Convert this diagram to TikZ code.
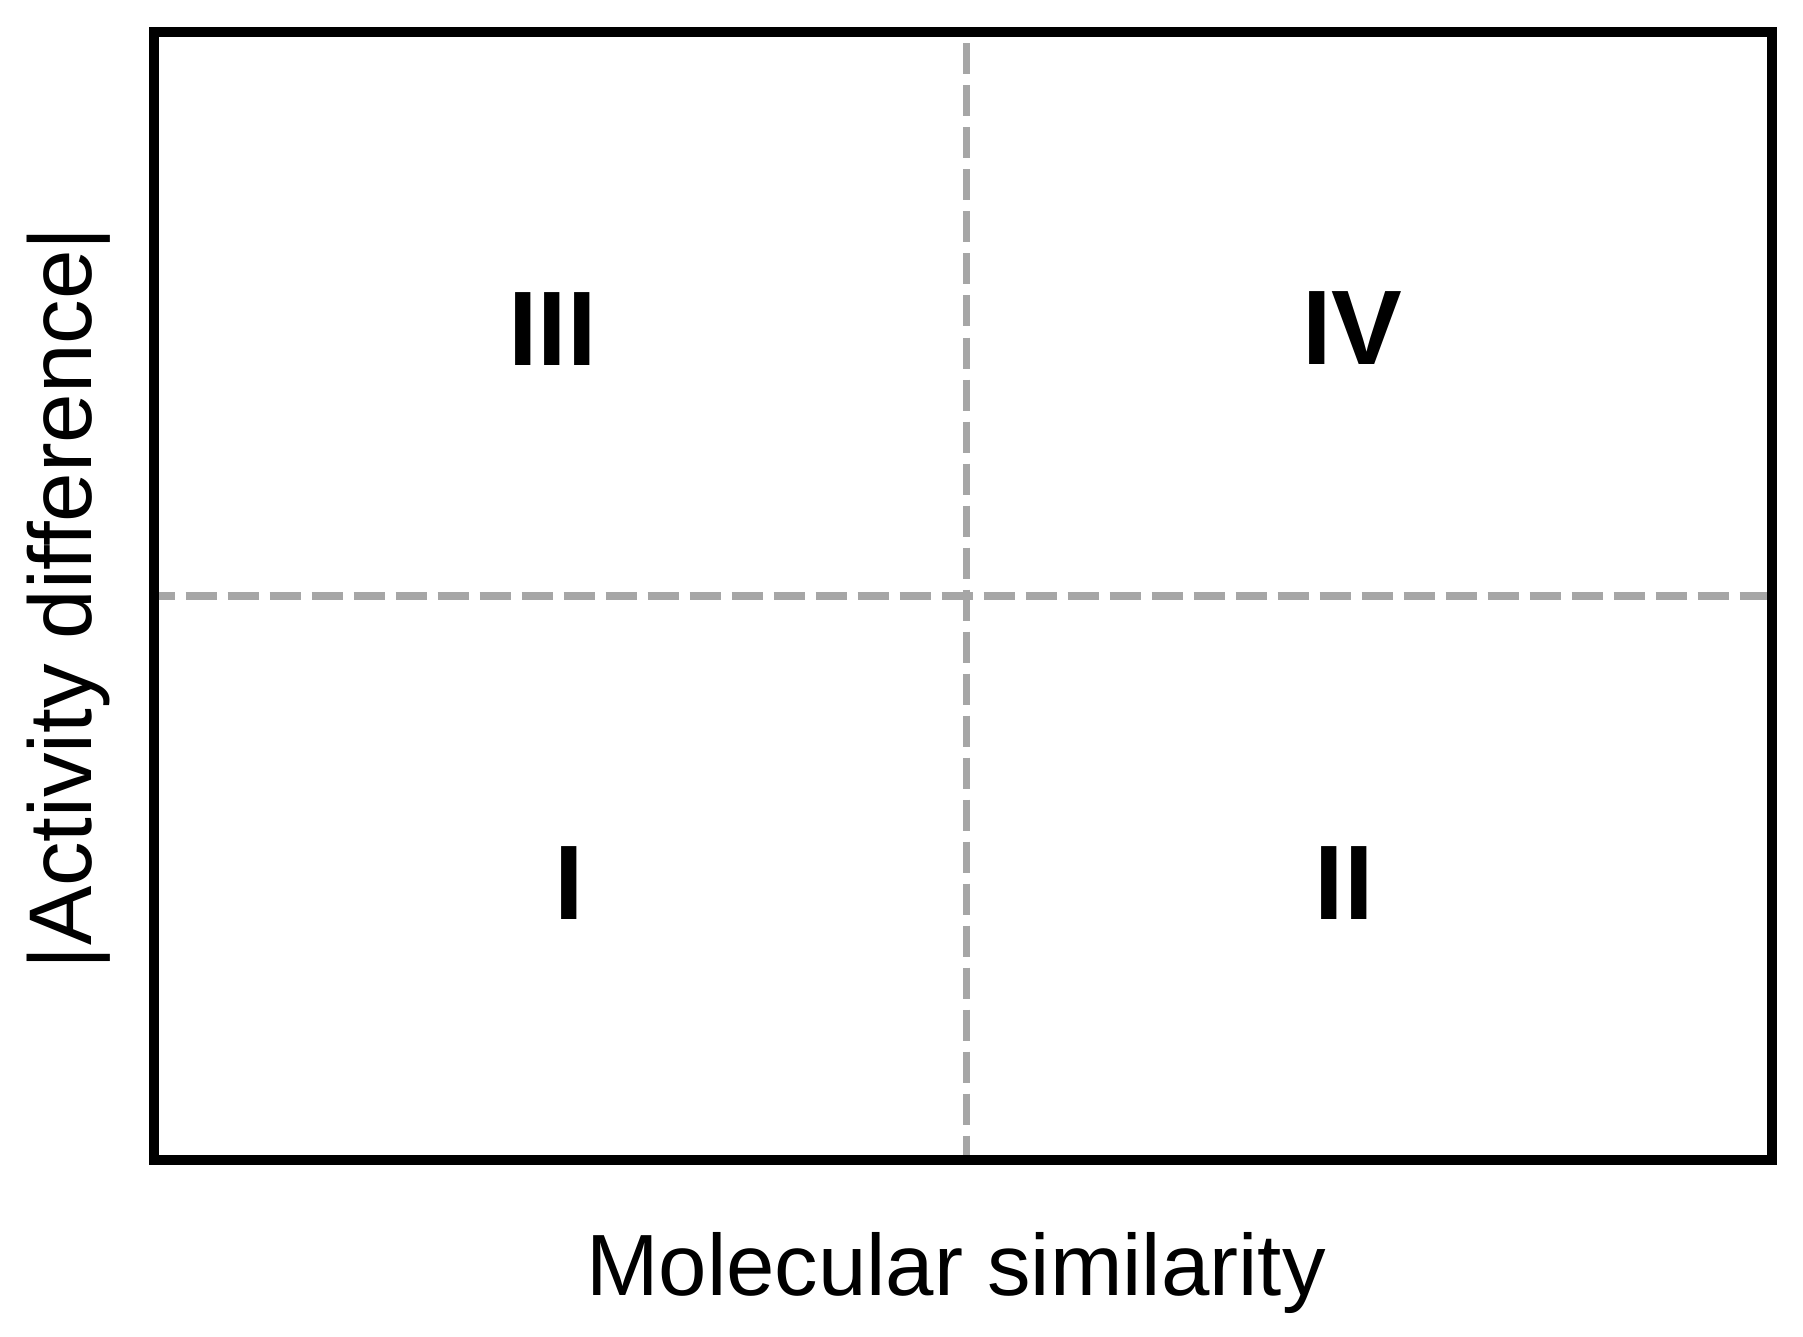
\documentclass[tikz,border=0pt]{standalone}
\usepackage{fontspec}
\setmainfont{Liberation Sans}
\definecolor{dashgray}{RGB}{166,166,166}
\begin{document}
\begin{tikzpicture}[x=1pt,y=-1pt,
  frame/.style={draw=black,line width=10pt},
  divider/.style={draw=dashgray,dash pattern=on 31pt off 11pt},
  quadlabel/.style={anchor=base,inner sep=0pt,font=\fontsize{106}{120}\selectfont\bfseries},
  axislabel/.style={anchor=base,inner sep=0pt,font=\fontsize{87}{100}\selectfont}]
\useasboundingbox (0,0) rectangle (1803,1337);
\coordinate (tl) at (153.5,32.5);
\coordinate (br) at (1771.5,1160);
\coordinate (hl) at (153.5,596);
\coordinate (hr) at (1771.5,596);
\coordinate (vt) at (966.5,32.5);
\coordinate (vb) at (966.5,1160);
\draw[divider,line width=8pt,dash phase=9.8pt] (hl) -- (hr);
\draw[divider,line width=6.5pt,dash phase=31pt] (vt) -- (vb);
\draw[frame] (tl) rectangle (br);
\node[quadlabel] (q3) at (552.5,365) {III};
\node[quadlabel] (q4) at (1352.5,364) {IV};
\node[quadlabel] (q1) at (569,919) {I};
\node[quadlabel] (q2) at (1344,919) {II};
\node[axislabel] (xl) at (956,1295) {Molecular similarity};
\node[axislabel,rotate=90,font=\fontsize{89}{100}\selectfont] (yl) at (91,598) {|Activity difference|};
\end{tikzpicture}
\end{document}
